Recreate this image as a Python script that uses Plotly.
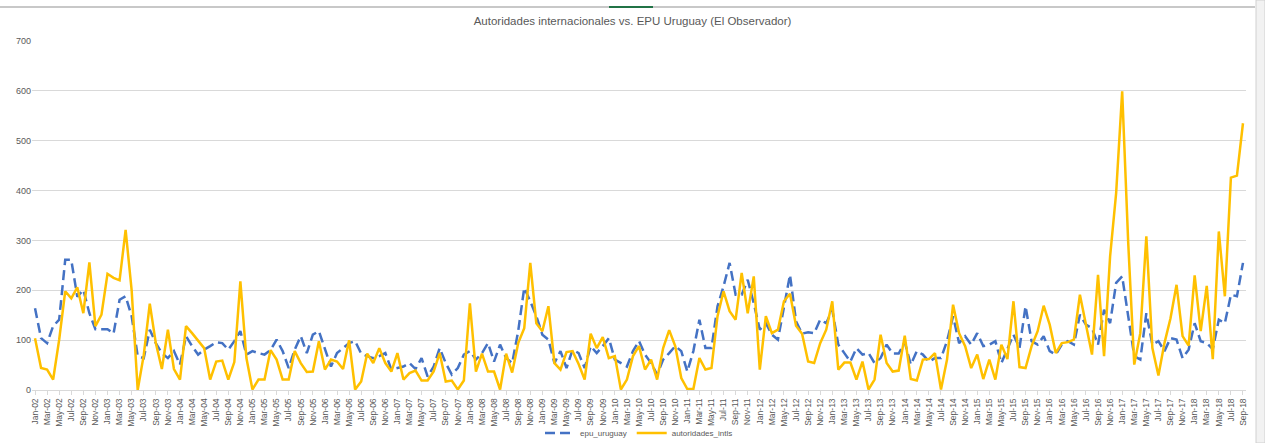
import plotly.graph_objects as go

months = ["Jan", "Feb", "Mar", "Apr", "May", "Jun", "Jul", "Aug", "Sep", "Oct", "Nov", "Dec"]
categories = [f"{m}-{y:02d}" for y in range(2, 19) for m in months][:201]

epu_uruguay = [
    164, 104, 94, 128, 141, 261, 261, 187, 201, 154, 122, 122,
    122, 113, 181, 188, 148, 68, 64, 121, 94, 74, 64, 78,
    51, 108, 88, 71, 81, 88, 96, 94, 81, 98, 118, 71,
    78, 74, 71, 80, 101, 78, 44, 81, 108, 74, 111, 118,
    81, 47, 74, 84, 94, 98, 73, 68, 64, 68, 74, 41,
    44, 47, 54, 42, 64, 27, 47, 84, 54, 31, 44, 71,
    78, 61, 74, 94, 57, 91, 64, 54, 118, 205, 178, 148,
    111, 101, 54, 78, 44, 81, 74, 44, 88, 74, 88, 104,
    61, 54, 47, 78, 98, 71, 54, 31, 61, 74, 88, 78,
    37, 78, 141, 84, 84, 168, 208, 255, 191, 191, 221, 174,
    121, 134, 111, 101, 168, 231, 138, 113, 116, 114, 141, 134,
    161, 91, 74, 57, 84, 71, 74, 54, 64, 91, 73, 73,
    96, 51, 78, 71, 57, 64, 64, 98, 148, 94, 108, 91,
    114, 88, 91, 98, 54, 81, 111, 84, 168, 98, 91, 108,
    78, 71, 91, 98, 91, 151, 131, 124, 91, 161, 134, 215,
    228, 148, 68, 61, 154, 91, 98, 78, 104, 101, 64, 81,
    134, 98, 94, 82, 141, 134, 191, 188, 255,
]

autoridades_intls = [
    104, 44, 41, 21, 101, 198, 184, 206, 154, 256, 128, 151,
    233, 225, 220, 321, 200, 0, 70, 173, 94, 42, 121, 42,
    21, 128, 114, 98, 84, 21, 57, 59, 21, 56, 218, 64,
    1, 21, 21, 80, 61, 21, 21, 78, 54, 36, 37, 98,
    41, 61, 57, 42, 100, 1, 17, 73, 54, 84, 54, 37,
    74, 21, 34, 39, 19, 19, 37, 74, 17, 19, 1, 19,
    174, 37, 73, 37, 37, 1, 73, 35, 94, 124, 255, 134,
    118, 168, 54, 41, 76, 78, 52, 21, 113, 84, 106, 64,
    68, 1, 21, 68, 88, 41, 61, 21, 84, 120, 88, 24,
    2, 2, 64, 41, 44, 148, 198, 158, 141, 235, 154, 228,
    41, 148, 114, 121, 178, 193, 129, 113, 57, 54, 94, 121,
    178, 41, 55, 55, 21, 57, 1, 21, 111, 54, 37, 39,
    109, 22, 19, 61, 62, 74, 1, 61, 171, 114, 88, 44,
    71, 22, 61, 21, 91, 62, 178, 46, 44, 88, 118, 169,
    131, 74, 94, 96, 101, 191, 128, 71, 231, 68, 268, 395,
    599, 295, 51, 114, 308, 84, 29, 94, 144, 211, 108, 89,
    230, 118, 209, 62, 318, 188, 426, 430, 535,
]

tick_labels = categories[::2]
y_ticks = [0, 100, 200, 300, 400, 500, 600, 700]
title_text = "Autoridades internacionales vs. EPU Uruguay (El Observador)"

FONT = "Liberation Sans, Arial, sans-serif"
GRAY = "#595959"
W, H = 1265, 443
L, R, T, B = 32, 19, 41, 53
PW, PH = W - L - R, H - T - B


def px_x(x):
    return (x - L) / PW


def px_y(y):
    return (H - B - y) / PH


fig = go.Figure()
fig.add_trace(go.Scatter(
    x=categories, y=epu_uruguay, mode="lines", name="epu_uruguay",
    line=dict(color="#4472C4", width=2.5, dash="10px,5px"),
))
fig.add_trace(go.Scatter(
    x=categories, y=autoridades_intls, mode="lines", name="autoridades_intls",
    line=dict(color="#FFC000", width=2.5),
))

fig.update_layout(
    width=W, height=H,
    margin=dict(l=L, r=R, t=T, b=B, autoexpand=False),
    paper_bgcolor="white", plot_bgcolor="white",
    font=dict(family=FONT, color=GRAY, size=9),
    title=dict(text=title_text, x=0.5, xanchor="center", y=1 - 21 / H, yanchor="middle",
               font=dict(family=FONT, size=11.5, color=GRAY)),
    showlegend=True,
    legend=dict(orientation="h", x=0.5, xanchor="center", yref="container",
                y=1 - 433 / H, yanchor="middle",
                font=dict(family=FONT, size=8, color=GRAY), itemwidth=30,
                bgcolor="rgba(0,0,0,0)"),
    xaxis=dict(
        type="category", range=[-0.5, 200.5], automargin=False,
        tickmode="array", tickvals=tick_labels, ticktext=tick_labels,
        tickangle=-90, tickfont=dict(family=FONT, size=8.5, color=GRAY),
        showgrid=False, showline=True, linecolor="#D9D9D9", linewidth=1,
        ticks="outside", ticklen=4, tickcolor="#D9D9D9", zeroline=False,
    ),
    yaxis=dict(
        range=[0, 700], tickvals=y_ticks, showgrid=True, gridcolor="#D9D9D9",
        gridwidth=1, zeroline=False, showline=False, ticks="", automargin=False,
        tickfont=dict(family=FONT, size=9, color=GRAY),
    ),
    shapes=[
        dict(type="line", xref="paper", yref="paper", x0=px_x(0), x1=px_x(1255),
             y0=px_y(7), y1=px_y(7), line=dict(color="#C8C8C8", width=2)),
        dict(type="line", xref="paper", yref="paper", x0=px_x(609), x1=px_x(653),
             y0=px_y(7), y1=px_y(7), line=dict(color="#217346", width=2)),
        dict(type="rect", xref="paper", yref="paper", x0=px_x(1256), x1=px_x(1265),
             y0=px_y(443), y1=px_y(0), fillcolor="#F2F2F2",
             line=dict(color="#D0D0D0", width=1)),
    ],
)

fig.write_html(
    "out.html",
    config={"displayModeBar": False},
    post_script="document.body.style.margin='0';document.body.style.overflow='hidden';",
)
